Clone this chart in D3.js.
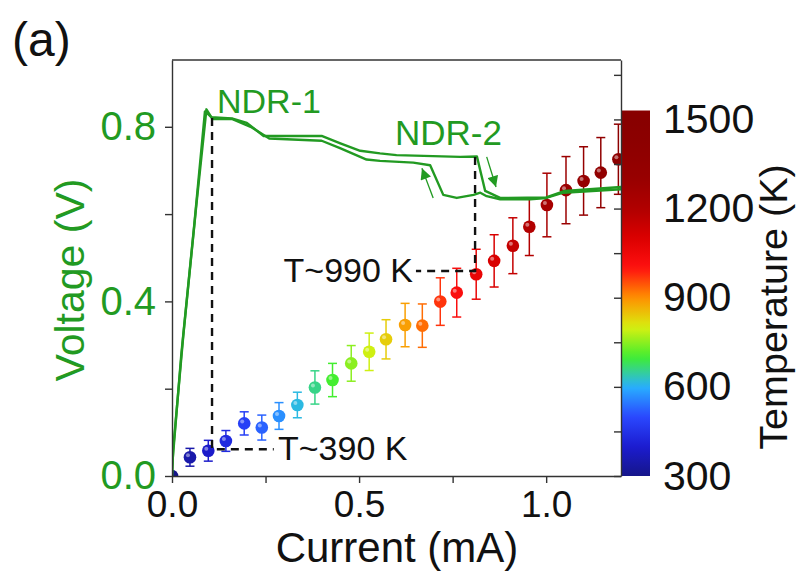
<!DOCTYPE html>
<html>
<head>
<meta charset="utf-8">
<script src="https://cdn.jsdelivr.net/npm/d3@7"></script>
<style>
body { margin: 0; background: #fff; }
text { font-family: Arial, "Liberation Sans", sans-serif; }
</style>
</head>
<body>
<svg id="chart" width="798" height="572"></svg>
<script>
// temperature points
var currents = [0, 0.048, 0.097, 0.144, 0.193, 0.240, 0.286, 0.335, 0.382, 0.429, 0.479, 0.527, 0.572,
                0.623, 0.669, 0.717, 0.761, 0.813, 0.861, 0.911, 0.955, 1.002, 1.053, 1.100, 1.146, 1.193];
var temps = [300, 363, 385, 418, 477, 463, 502, 539, 598, 623, 679, 718, 760,
             808, 806, 887, 917, 979, 1024, 1075, 1139, 1212, 1262, 1293, 1321, 1366];
var tempErr = [0, 30, 35, 35, 39, 42, 45, 43, 56, 56, 60, 63, 66,
               73, 73, 80, 82, 84, 88, 94, 97, 107, 113, 115, 118, 118];

// I-V sweep, up then back down
var fwdI = [0, 0.003, 0.03, 0.065, 0.092, 0.105, 0.16, 0.20, 0.245, 0.40, 0.45, 0.503, 0.556, 0.60,
            0.77, 0.815, 0.837, 0.877, 1.0, 1.05, 1.2];
var fwdV = [0, 0.06, 0.32, 0.62, 0.84, 0.822, 0.819, 0.809, 0.779, 0.779, 0.762, 0.745, 0.739, 0.735,
            0.731, 0.732, 0.653, 0.637, 0.638, 0.653, 0.662];
var revI = [1.2, 1.046, 1.0, 0.957, 0.877, 0.841, 0.824, 0.806, 0.761, 0.725, 0.69, 0.645, 0.556, 0.52,
            0.449, 0.40, 0.26, 0.21, 0.16, 0.11, 0.095, 0.088, 0.06, 0.025, 0.002, 0];
var revV = [0.657, 0.649, 0.637, 0.634, 0.634, 0.641, 0.649, 0.644, 0.637, 0.644, 0.712, 0.718, 0.722, 0.725,
            0.751, 0.768, 0.773, 0.80, 0.818, 0.818, 0.83, 0.835, 0.58, 0.28, 0.04, 0];

var vTicks = [0, 0.2, 0.4, 0.6, 0.8];
var vLabels = [0, 0.4, 0.8];
var iTicks = [0, 0.25, 0.5, 0.75, 1.0];
var iLabels = [0, 0.5, 1.0];
var tMinor = [300, 450, 600, 750, 900, 1050, 1200, 1350, 1500, 1650];
var tTicks = [300, 600, 900, 1200, 1500];

// colour map of the bar, one colour every 100 K from 300 to 1500
var palette = ["#16168a", "#1c1cd0", "#2a48ff", "#28b0ff", "#40ee30", "#d8f010", "#ff9000",
               "#ff1010", "#dc0000", "#b00000", "#980000", "#8e0000", "#880000"];

var green = "#229a22";
var svg = d3.select("#chart");

var x = d3.scaleLinear().domain([0, 1.2]).range([172, 621]);
var yV = d3.scaleLinear().domain([0, 0.953]).range([476, 60]);
var yT = d3.scaleLinear().domain([300, 1700]).range([476, 60]);

var interp = d3.piecewise(d3.interpolateRgb, palette);
var colI = d3.scaleSequential(interp).domain([0, 1.28]);

var defs = svg.append("defs");
defs.append("clipPath").attr("id", "plotclip")
    .append("rect").attr("x", 172).attr("y", 60).attr("width", 449).attr("height", 416);

defs.append("marker")
    .attr("id", "arrow")
    .attr("viewBox", "0 0 10 10")
    .attr("refX", 10).attr("refY", 5)
    .attr("markerUnits", "userSpaceOnUse")
    .attr("markerWidth", 12).attr("markerHeight", 11)
    .attr("orient", "auto")
    .append("path").attr("d", "M0,0 L10,5 L0,10 Z").attr("fill", green);

// colorbar
var grad = defs.append("linearGradient").attr("id", "cbar")
    .attr("x1", 0).attr("y1", 1).attr("x2", 0).attr("y2", 0);
d3.range(0, 1.0001, 0.02).forEach(function(t) {
    grad.append("stop").attr("offset", t).attr("stop-color", interp(Math.min(1, t * 1230 / 1200)));
});
svg.append("rect")
    .attr("x", 621).attr("y", yT(1530))
    .attr("width", 29).attr("height", yT(300) - yT(1530))
    .attr("fill", "url(#cbar)");

var plot = svg.append("g").attr("clip-path", "url(#plotclip)");

// error bars + points
var pts = currents.map(function(c, i) { return { i: c, t: temps[i], e: tempErr[i] }; });
var pg = plot.selectAll("g.pt").data(pts).enter().append("g").attr("class", "pt");
pg.append("line")
    .attr("x1", d => x(d.i)).attr("x2", d => x(d.i))
    .attr("y1", d => yT(d.t - d.e)).attr("y2", d => yT(d.t + d.e))
    .attr("stroke", d => colI(d.i)).attr("stroke-width", 1.5);
pg.filter(d => d.e > 0).selectAll("line.cap")
    .data(d => [{ i: d.i, t: d.t - d.e }, { i: d.i, t: d.t + d.e }])
    .enter().append("line").attr("class", "cap")
    .attr("x1", d => x(d.i) - 4.5).attr("x2", d => x(d.i) + 4.5)
    .attr("y1", d => yT(d.t)).attr("y2", d => yT(d.t))
    .attr("stroke", function(d) { return colI(d.i); }).attr("stroke-width", 1.5);
pg.append("circle")
    .attr("cx", d => x(d.i)).attr("cy", d => yT(d.t)).attr("r", 6.3)
    .attr("fill", d => colI(d.i));
pg.append("circle")
    .attr("cx", d => x(d.i) - 2).attr("cy", d => yT(d.t) - 2).attr("r", 2)
    .attr("fill", "#fff").attr("opacity", 0.45);

// I-V curve
var line = d3.line().x(d => x(d[0])).y(d => yV(d[1]));
[[fwdI, fwdV], [revI, revV]].forEach(function(s) {
    plot.append("path")
        .attr("d", line(s[0].map((v, k) => [v, s[1][k]])))
        .attr("fill", "none").attr("stroke", green).attr("stroke-width", 2.4)
        .attr("stroke-linejoin", "round");
});

// sweep direction arrows
svg.append("line")
    .attr("x1", x(0.698)).attr("y1", yV(0.637)).attr("x2", x(0.668)).attr("y2", yV(0.705))
    .attr("stroke", green).attr("stroke-width", 1.3).attr("marker-end", "url(#arrow)");
svg.append("line")
    .attr("x1", x(0.841)).attr("y1", yV(0.731)).attr("x2", x(0.866)).attr("y2", yV(0.662))
    .attr("stroke", green).attr("stroke-width", 1.3).attr("marker-end", "url(#arrow)");

// dashed guides
var dash = svg.append("g").attr("stroke", "#111").attr("stroke-width", 2.4)
    .attr("stroke-dasharray", "8,6").attr("fill", "none");
dash.append("path").attr("d",
    "M" + x(0.107) + "," + yV(0.82) + "V" + yT(390) + "H" + x(0.272));
dash.append("path").attr("d",
    "M" + x(0.81) + "," + yV(0.731) + "V" + yT(990) + "H" + x(0.652));

svg.append("text").attr("x", 278).attr("y", yT(390) + 11)
    .attr("font-size", 34).attr("fill", "#111").text("T~390 K");
svg.append("text").attr("x", 413).attr("y", yT(990) + 11).attr("text-anchor", "end")
    .attr("font-size", 34).attr("fill", "#111").text("T~990 K");

svg.append("text").attr("x", 217).attr("y", 113)
    .attr("font-size", 34).attr("fill", green).text("NDR-1");
svg.append("text").attr("x", 395).attr("y", 145)
    .attr("font-size", 35).attr("fill", green).text("NDR-2");

// axes
var axL = svg.append("g").attr("transform", "translate(172,0)")
    .call(d3.axisLeft(yV).tickValues(vTicks).tickSize(7).tickSizeOuter(0).tickPadding(9)
        .tickFormat(d => vLabels.indexOf(d) >= 0 ? d3.format(".1f")(d) : ""));
axL.selectAll("text").attr("font-size", 40).attr("fill", green).style("font-family", "Arial, 'Liberation Sans'");

var axB = svg.append("g").attr("transform", "translate(0,476)")
    .call(d3.axisBottom(x).tickValues(iTicks).tickSize(7).tickSizeOuter(0).tickPadding(8)
        .tickFormat(d => iLabels.indexOf(d) >= 0 ? d3.format(".1f")(d) : ""));
axB.selectAll("text").attr("font-size", 37).attr("fill", "#111").style("font-family", "Arial, 'Liberation Sans'");

var axR = svg.append("g").attr("transform", "translate(621,0)")
    .call(d3.axisRight(yT).tickValues(tMinor).tickSize(-7).tickSizeOuter(0).tickFormat(""));

var axC = svg.append("g").attr("transform", "translate(650,0)")
    .call(d3.axisRight(yT).tickValues(tTicks).tickSize(0).tickPadding(13).tickFormat(d3.format("d")));
axC.select(".domain").remove();
axC.selectAll("text").attr("font-size", 41).attr("fill", "#111").style("font-family", "Arial, 'Liberation Sans'");

svg.selectAll(".domain, .tick line").attr("stroke", "#333").attr("stroke-width", 1.4);

svg.append("line").attr("x1", 172).attr("x2", 621).attr("y1", 60).attr("y2", 60)
    .attr("stroke", "#333").attr("stroke-width", 1.4);

// titles
svg.append("text").attr("transform", "translate(84,280) rotate(-90)")
    .attr("text-anchor", "middle").attr("font-size", 41).attr("fill", green).text("Voltage (V)");
svg.append("text").attr("x", 397).attr("y", 562)
    .attr("text-anchor", "middle").attr("font-size", 42).attr("fill", "#111").text("Current (mA)");
svg.append("text").attr("transform", "translate(787,307) rotate(-90)")
    .attr("text-anchor", "middle").attr("font-size", 39.5).attr("fill", "#111").text("Temperature (K)");
svg.append("text").attr("x", 12).attr("y", 56)
    .attr("font-size", 48).attr("fill", "#111").text("(a)");
</script>
</body>
</html>
